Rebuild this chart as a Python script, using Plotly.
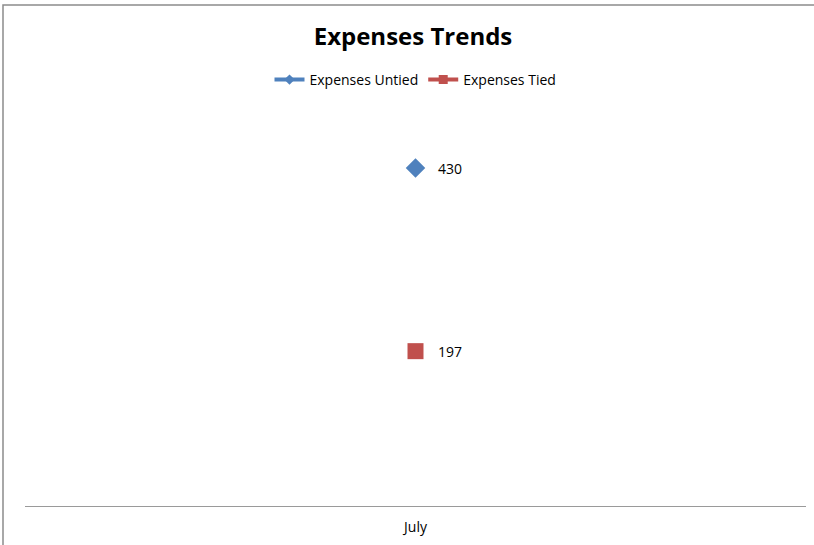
import plotly.graph_objects as go

categories = ["July"]
untied = [430]
tied = [197]

W, H = 814, 545
L, R, T, B = 25, 8, 113, 39
pw, ph = W - L - R, H - T - B

BLUE, RED = "#4F81BD", "#C0504D"

fig = go.Figure()
# data traces
fig.add_trace(go.Scatter(
    x=categories, y=untied, name="Expenses Untied", showlegend=False,
    mode="lines+markers", line=dict(color=BLUE, width=4),
    marker=dict(symbol="diamond", size=15, color=BLUE),
))
fig.add_trace(go.Scatter(
    x=categories, y=tied, name="Expenses Tied", showlegend=False,
    mode="lines+markers", line=dict(color=RED, width=4),
    marker=dict(symbol="square", size=16, color=RED),
))
# legend entries with small markers
fig.add_trace(go.Scatter(
    x=[None], y=[None], name="Expenses Untied", mode="lines+markers",
    line=dict(color=BLUE, width=4), marker=dict(symbol="diamond", size=8, color=BLUE),
))
fig.add_trace(go.Scatter(
    x=[None], y=[None], name="Expenses Tied", mode="lines+markers",
    line=dict(color=RED, width=4), marker=dict(symbol="square", size=9, color=RED),
))

for vals in (untied, tied):
    for c, v in zip(categories, vals):
        fig.add_annotation(x=c, y=v, xref="x", yref="y", text=str(v),
                           showarrow=False, xanchor="left", xshift=20,
                           font=dict(size=14, color="#000000"))

def px_x(x):
    return (x - L) / pw

def px_y(y):
    return (H - B - y) / ph

fig.add_shape(type="rect", xref="paper", yref="paper",
              x0=px_x(3), x1=px_x(818), y0=px_y(549), y1=px_y(5),
              line=dict(color="#8c8c8c", width=1.5), fillcolor="rgba(0,0,0,0)", layer="below")

fig.update_layout(
    width=W, height=H,
    margin=dict(l=L, r=R, t=T, b=B),
    paper_bgcolor="white", plot_bgcolor="white",
    font=dict(family="Open Sans", size=14, color="#000000"),
    title=dict(text="<b>Expenses Trends</b>", x=413 / W, xanchor="center",
               y=1 - 37 / H, yanchor="middle",
               font=dict(size=24, family="Open Sans", color="#000000")),
    legend=dict(orientation="h", x=0.5, xanchor="center", y=px_y(80), yanchor="middle",
                font=dict(size=14), itemwidth=30, bgcolor="rgba(0,0,0,0)"),
    showlegend=True,
    xaxis=dict(type="category", showline=True, linecolor="#9a9a9a", linewidth=1,
               showgrid=False, ticks="", tickfont=dict(size=14), zeroline=False,
               ticklabelstandoff=8),
    yaxis=dict(range=[0, 500], visible=False, showgrid=False, zeroline=False),
)

fig.write_html("out.html")
